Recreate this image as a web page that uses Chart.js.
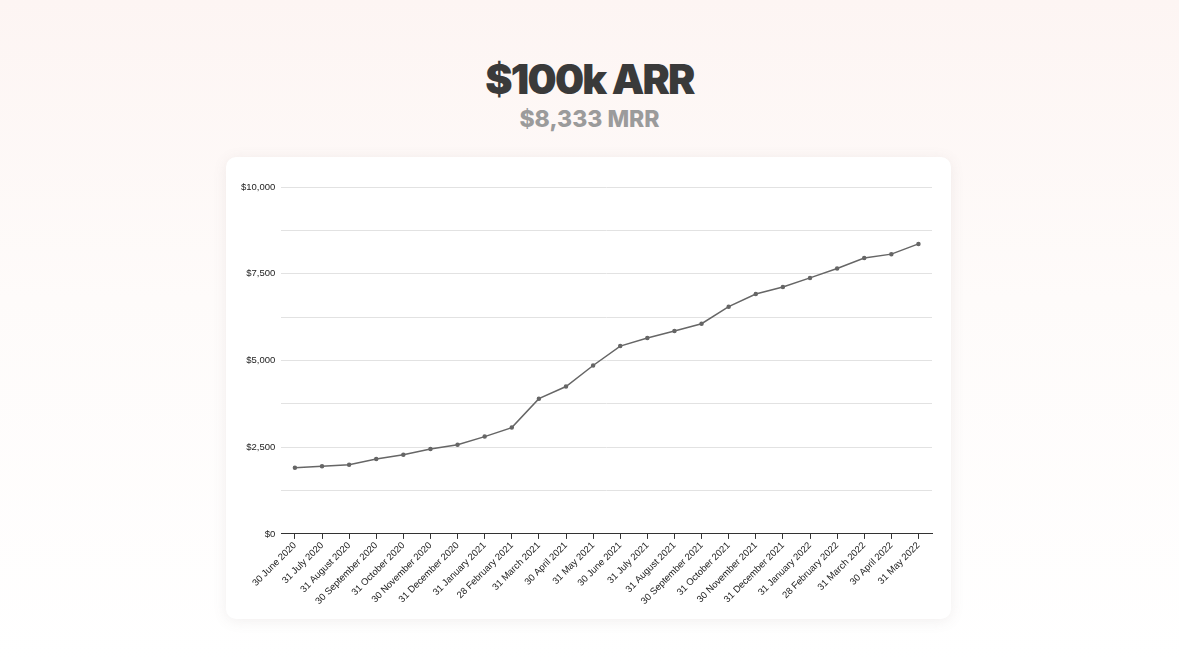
<!DOCTYPE html>
<html>
<head>
<meta charset="utf-8">
<script src="https://cdn.jsdelivr.net/npm/chart.js@4"></script>
<style>
    html, body {
        margin: 0;
        width: 1179px;
        height: 663px;
        overflow: hidden;
        font-family: Inter, "Liberation Sans", sans-serif;
        background: linear-gradient(to bottom, #fdf5f3 0%, #fefbfa 45%, #ffffff 100%);
    }
    .title {
        position: absolute;
        top: 54px;
        left: 0;
        width: 1179px;
        text-align: center;
        font-size: 41px;
        font-weight: 900;
        letter-spacing: -1.8px;
        color: #3a3a3a;
    }
    .subtitle {
        position: absolute;
        top: 105px;
        left: 0;
        width: 1179px;
        text-align: center;
        font-size: 23px;
        font-weight: 800;
        letter-spacing: 0px;
        color: #9b9b9b;
    }
    .card {
        position: absolute;
        left: 226px;
        top: 157px;
        width: 725px;
        height: 462px;
        background: #fff;
        border-radius: 10px;
        box-shadow: 0 2px 14px rgba(120, 100, 95, 0.10);
    }
</style>
</head>
<body>
<div class="title">$100k ARR</div>
<div class="subtitle">$8,333 MRR</div>
<div class="card">
    <canvas id="mrrChart" width="725" height="462"></canvas>
</div>

<script>
const months = [
    '30 June 2020', '31 July 2020', '31 August 2020', '30 September 2020',
    '31 October 2020', '30 November 2020', '31 December 2020', '31 January 2021',
    '28 February 2021', '31 March 2021', '30 April 2021', '31 May 2021',
    '30 June 2021', '31 July 2021', '31 August 2021', '30 September 2021',
    '31 October 2021', '30 November 2021', '31 December 2021', '31 January 2022',
    '28 February 2022', '31 March 2022', '30 April 2022', '31 May 2022'
];
const mrr = [
    1910, 1950, 1995, 2160, 2285, 2450, 2570, 2805,
    3065, 3900, 4250, 4855, 5415, 5645, 5850, 6060,
    6550, 6915, 7120, 7380, 7650, 7955, 8065, 8360
];
const yMax = 10000;
const yStep = 1250;

document.addEventListener('DOMContentLoaded', function() {
    initMrrChart();
});

function initMrrChart() {
    const ctx = document.getElementById('mrrChart').getContext('2d');
    new Chart(ctx, {
        type: 'line',
        data: {
            labels: months,
            datasets: [{
                label: 'MRR',
                data: mrr,
                borderColor: '#666666',
                backgroundColor: '#666666',
                borderWidth: 1.5,
                pointRadius: 1.5,
                pointHoverRadius: 3,
                tension: 0,
                fill: false
            }]
        },
        options: {
            responsive: false,
            animation: false,
            layout: {
                padding: { top: 30, left: 9, right: 19, bottom: 11 }
            },
            plugins: {
                legend: { display: false },
                tooltip: { enabled: false }
            },
            scales: {
                x: {
                    offset: true,
                    grid: {
                        offset: false,
                        drawOnChartArea: false,
                        drawTicks: true,
                        tickLength: 5,
                        color: '#333'
                    },
                    border: { color: '#333', width: 1 },
                    ticks: {
                        autoSkip: false,
                        maxRotation: 45,
                        minRotation: 45,
                        padding: 1,
                        color: '#222',
                        font: { family: '"Liberation Sans", Arial, sans-serif', size: 9.5 }
                    }
                },
                y: {
                    min: 0,
                    max: yMax,
                    grid: {
                        color: '#e2e2e2',
                        drawTicks: false
                    },
                    border: { display: false },
                    ticks: {
                        stepSize: yStep,
                        padding: 6,
                        color: '#222',
                        font: { family: '"Liberation Sans", Arial, sans-serif', size: 9.5 },
                        callback: function(value) {
                            if (value % 2500 !== 0) return '';
                            return '$' + value.toLocaleString('en-US');
                        }
                    }
                }
            }
        }
    });
}
</script>
</body>
</html>
